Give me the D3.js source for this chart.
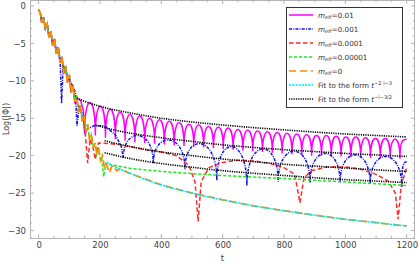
<!DOCTYPE html>
<html><head><meta charset="utf-8">
<script src="https://cdn.jsdelivr.net/npm/d3@7"></script>
<style>body{margin:0;background:#fff}svg{display:block}text{font-family:"DejaVu Sans",sans-serif}</style>
</head><body><svg id="c" width="419" height="264"></svg>
<script>
// ---------- data ----------
// shared early oscillating decay (all masses coincide)
const earlyT = [0,6,10,16,22,28,34,40,46,52,58,64,70,76,82,88,94,100,106,112,118,124,130,136,142,148,154,160,166,172,178,184,190,196,202,208,214,220];
const earlyV = [-0.5,-1.0,-2.2,-1.5,-3.0,-2.4,-4.2,-3.4,-5.3,-4.4,-6.4,-5.5,-7.6,-6.8,-9.0,-8.0,-10.2,-9.2,-11.6,-10.6,-12.8,-12.0,-14.2,-13.3,-15.4,-14.6,-16.8,-15.8,-17.8,-17.2,-19.0,-18.3,-19.8,-19.2,-20.6,-20.0,-21.4,-20.9];

// m_eff = 0.01 (magenta): arches between dips
const magDipT = [150,185,218,250,282,314,346,378,410,442,474,506,538,570,602,634,666,698,730,762,794,826,858,890,922,954,986,1018,1050,1082,1114,1146,1178];
const magDipV = [-17.0,-17.3,-17.6,-17.8,-18.0,-18.2,-18.3,-18.4,-18.5,-18.6,-18.7,-18.8,-18.9,-19.0,-19.1,-19.2,-19.3,-19.4,-19.5,-19.6,-19.7,-19.8,-19.9,-20.0,-20.0,-20.1,-20.1,-20.2,-20.2,-20.3,-20.3,-20.3,-20.4];
const magTopV = [-12.9,-13.4,-13.8,-14.2,-14.5,-14.7,-15.0,-15.2,-15.4,-15.6,-15.8,-15.9,-16.1,-16.2,-16.3,-16.5,-16.6,-16.7,-16.8,-16.9,-17.0,-17.1,-17.2,-17.3,-17.3,-17.4,-17.5,-17.5,-17.6,-17.7,-17.7,-17.8];
const magLead = [[124,-12.3],[137,-12.6],[146,-14.0],[150,-17.0]];
const magEnd = [1200,-17.8];

// m_eff = 0.001 (blue)
const bluePre = [[70,-7.0],[75,-13.0],[80,-8.0],[120,-11.5],[125,-16.0],[132,-13.5],[145,-14.5],[152,-17.2],[160,-16.4],[180,-16.0],[215,-16.0],[250,-17.2],[270,-18.8],[276,-20.3]];
const blueDipT = [276,374,477,581,679,781,885,983,1081,1184];
const blueDipV = [-20.3,-21.0,-21.8,-23.3,-24.0,-23.5,-23.6,-23.6,-23.8,-24.2];
const blueTopV = [-17.3,-17.9,-18.4,-18.8,-19.1,-19.4,-19.7,-19.9,-20.1];
const blueEnd = [1200,-20.8];

// m_eff = 0.0001 (red)
const redT = [150,160,168,178,185,195,230,260,300,350,400,450,490,510,520,530,555,600,650,700,750,800,835,852,865,890,940,1000,1050,1100,1140,1163,1172,1182,1200];
const redV = [-15.8,-21.0,-17.8,-19.0,-20.5,-18.3,-18.4,-18.5,-18.8,-19.2,-19.5,-20.0,-21.3,-23.5,-28.8,-23.5,-21.6,-20.9,-20.6,-20.7,-21.0,-21.6,-22.5,-26.3,-23.0,-22.0,-21.5,-21.5,-21.8,-22.5,-23.4,-25.0,-28.5,-24.0,-21.6];

// m_eff = 0.00001 (green)
const greenT = [202,206,212,220,233,300,400,500,600,700,800,900,1000,1100,1200];
const greenV = [-20.6,-20.4,-22.8,-21.0,-21.2,-21.7,-22.1,-22.4,-22.65,-22.85,-23.05,-23.3,-23.5,-23.75,-24.0];

// m_eff = 0 (orange)
const orangeT = [220,230,240,255,265,300,400,500,600,700,800,900,1000,1100,1200];
const orangeV = [-20.9,-22.3,-21.3,-22.0,-21.8,-22.4,-23.9,-25.0,-25.9,-26.7,-27.35,-27.95,-28.5,-28.95,-29.4];

// fit t^(-2l-3) (cyan)
const cyanT = [222,250,300,400,500,600,700,800,900,1000,1100,1200];
const cyanV = [-20.9,-21.5,-22.4,-23.9,-25.0,-25.9,-26.7,-27.35,-27.95,-28.5,-28.95,-29.4];

// fits t^(-l-3/2) (black dotted), four curves
const fitT = [[124,150,200,300,400,500,600,700,800,900,1000,1100,1200],
              [185,250,300,400,500,600,700,800,900,1000,1100,1200],
              [215,250,300,400,500,600,700,800,900,1000,1100,1200],
              [215,250,300,400,500,600,700,800,900,1000,1100,1200]];
const fitV = [[-12.3,-12.75,-13.4,-14.3,-15.0,-15.5,-15.9,-16.25,-16.55,-16.85,-17.1,-17.3,-17.5],
              [-15.9,-16.6,-17.0,-17.6,-18.1,-18.55,-18.9,-19.2,-19.45,-19.7,-19.9,-20.1],
              [-18.0,-18.35,-18.8,-19.5,-20.0,-20.45,-20.8,-21.15,-21.4,-21.65,-21.9,-22.1],
              [-19.6,-19.95,-20.4,-21.05,-21.55,-22.0,-22.35,-22.65,-22.95,-23.2,-23.4,-23.6]];

const xTicks = [0,200,400,600,800,1000,1200];
const yTicks = [0,-5,-10,-15,-20,-25,-30];
const legendLabels = ["0.01","0.001","0.0001","0.00001","0"];

// ---------- drawing ----------
const svg = d3.select("#c");
const L=30,R=415,T=0,B=238;
const x = d3.scaleLinear().domain([-28,1227]).range([L,R]);
const y = d3.scaleLinear().domain([0.8,-31]).range([T,B]);

const g = svg.append("g");
const axCol="#b3b3b3";
g.append("rect").attr("x",L+0.5).attr("y",T+0.5).attr("width",R-L-1).attr("height",B-T).attr("fill","none").attr("stroke",axCol).attr("stroke-width",1);

d3.range(0,1227,50).forEach(v=>{
  const major = xTicks.includes(v);
  const len = major?4:2.2;
  g.append("line").attr("x1",x(v)).attr("x2",x(v)).attr("y1",B).attr("y2",B-len).attr("stroke",axCol);
  g.append("line").attr("x1",x(v)).attr("x2",x(v)).attr("y1",T).attr("y2",T+len).attr("stroke",axCol);
});
d3.range(0,-32,-1).forEach(v=>{
  const major = yTicks.includes(v);
  const len = major?4:2.2;
  g.append("line").attr("x1",L).attr("x2",L+len).attr("y1",y(v)).attr("y2",y(v)).attr("stroke",axCol);
  g.append("line").attr("x1",R).attr("x2",R-len).attr("y1",y(v)).attr("y2",y(v)).attr("stroke",axCol);
});
const xa = d3.axisBottom(x).tickValues(xTicks).tickSize(0).tickPadding(4).tickFormat(d3.format("d"));
const xg = svg.append("g").attr("transform",`translate(0,${B})`).call(xa);
xg.select(".domain").remove();
xg.selectAll("text").attr("font-size",8.5).attr("fill","#444").attr("font-family","DejaVu Sans");
const ya = d3.axisLeft(y).tickValues(yTicks).tickSize(0).tickPadding(4).tickFormat(d=>d===0?"0":"\u2212"+Math.abs(d));
const yg = svg.append("g").attr("transform",`translate(${L},0)`).call(ya);
yg.select(".domain").remove();
yg.selectAll("text").attr("font-size",8.5).attr("fill","#444").attr("font-family","DejaVu Sans");

svg.append("text").attr("x",(L+R)/2).attr("y",261).attr("text-anchor","middle").attr("font-size",8.5).attr("fill","#444").text("t");
svg.append("text").attr("transform",`translate(9,${(T+B)/2}) rotate(-90)`).attr("text-anchor","middle").attr("font-size",8).attr("fill","#444").text("Log(|\u03A6|)");

svg.append("clipPath").attr("id","cp").append("rect").attr("x",L).attr("y",T).attr("width",R-L).attr("height",B-T);
const plot = svg.append("g").attr("clip-path","url(#cp)");

const lin = d3.line().x(d=>x(d[0])).y(d=>y(d[1]));
const mono = d3.line().x(d=>x(d[0])).y(d=>y(d[1])).curve(d3.curveMonotoneX);
const early = earlyT.map((t,i)=>[t,earlyV[i]]);
const upTo = t0 => early.filter(d=>d[0]<=t0);

// polyline lead-in, then arches (vertical tangents at the dips, rounded top), then a rising tail
function archSeries(lead, dT, dV, tV, end){
  const p = d3.path();
  lead.forEach((d,i)=> i===0 ? p.moveTo(x(d[0]),y(d[1])) : p.lineTo(x(d[0]),y(d[1])));
  for(let i=0;i<dT.length-1;i++){
    const x0=x(dT[i]), y0=y(dV[i]), x1=x(dT[i+1]), y1=y(dV[i+1]);
    const yc = (4*y(tV[i]) - (y0+y1)/2)/3;
    p.bezierCurveTo(x0, yc, x1, yc, x1, y1);
  }
  const xl=x(dT[dT.length-1]), yl=y(dV[dV.length-1]), xe=x(end[0]), ye=y(end[1]);
  p.bezierCurveTo(xl, ye, (xl+xe)/2, ye, xe, ye);
  return p.toString();
}

const C = {mag:"#ff00ff",blue:"#1010f0",red:"#ff2a2a",green:"#22e622",orange:"#ff8c00",cyan:"#00e8f0"};
const S = {mag:null,blue:"3,1.2,1,1.2",red:"4.5,2.5",green:"3.2,1.8",orange:"7,4",cyan:"2.2,1",black:"1.2,1.1"};

plot.append("path").attr("d", archSeries(upTo(118).concat(magLead), magDipT, magDipV, magTopV, magEnd))
  .attr("fill","none").attr("stroke",C.mag).attr("stroke-width",1.5);
plot.append("path").attr("d", archSeries(upTo(64).concat(bluePre), blueDipT, blueDipV, blueTopV, blueEnd))
  .attr("fill","none").attr("stroke",C.blue).attr("stroke-width",1.5).attr("stroke-dasharray",S.blue);
plot.append("path").attr("d", lin(upTo(148).concat(redT.map((t,i)=>[t,redV[i]]))))
  .attr("fill","none").attr("stroke",C.red).attr("stroke-width",1.5).attr("stroke-dasharray",S.red);
plot.append("path").attr("d", lin(upTo(196).concat(greenT.map((t,i)=>[t,greenV[i]]))))
  .attr("fill","none").attr("stroke",C.green).attr("stroke-width",1.5).attr("stroke-dasharray",S.green);
plot.append("path").attr("d", lin(upTo(214).concat(orangeT.map((t,i)=>[t,orangeV[i]]))))
  .attr("fill","none").attr("stroke",C.orange).attr("stroke-width",1.8).attr("stroke-dasharray",S.orange);
plot.append("path").attr("d", mono(cyanT.map((t,i)=>[t,cyanV[i]])))
  .attr("fill","none").attr("stroke",C.cyan).attr("stroke-width",1.5).attr("stroke-dasharray",S.cyan);
fitT.forEach((ts,k)=>{
  plot.append("path").attr("d", mono(ts.map((t,i)=>[t,fitV[k][i]])))
    .attr("fill","none").attr("stroke","#000").attr("stroke-width",1.6).attr("stroke-dasharray",S.black);
});

// legend
const lg = svg.append("g");
lg.append("rect").attr("x",286.5).attr("y",7.5).attr("width",116).attr("height",100).attr("fill","#fff").attr("stroke","#333").attr("stroke-width",1);
const rows = [
  {c:C.mag,d:S.mag,m:legendLabels[0]},{c:C.blue,d:S.blue,m:legendLabels[1]},{c:C.red,d:S.red,m:legendLabels[2]},
  {c:C.green,d:S.green,m:legendLabels[3]},{c:C.orange,d:S.orange,m:legendLabels[4]},
  {c:C.cyan,d:S.cyan,f:"\u22122 l\u22123"},{c:"#000",d:S.black,f:"\u2212l\u22123/2"}];
rows.forEach((r,i)=>{
  const yy = 15+i*14;
  lg.append("line").attr("x1",289).attr("x2",313).attr("y1",yy).attr("y2",yy).attr("stroke",r.c).attr("stroke-width",1.5).attr("stroke-dasharray",r.d);
  const tx = lg.append("text").attr("x",318).attr("y",yy+2.6).attr("font-size",7.2).attr("fill","#333");
  if(r.m!==undefined){
    tx.append("tspan").attr("font-style","italic").text("m");
    tx.append("tspan").attr("font-style","italic").attr("font-size",5).attr("dy",1.5).text("eff");
    tx.append("tspan").attr("dy",-1.5).text("="+r.m);
  } else {
    tx.append("tspan").text("Fit to the form ");
    tx.append("tspan").attr("font-style","italic").text("t");
    tx.append("tspan").attr("font-size",5).attr("dy",-3).text(r.f);
  }
});
</script></body></html>
